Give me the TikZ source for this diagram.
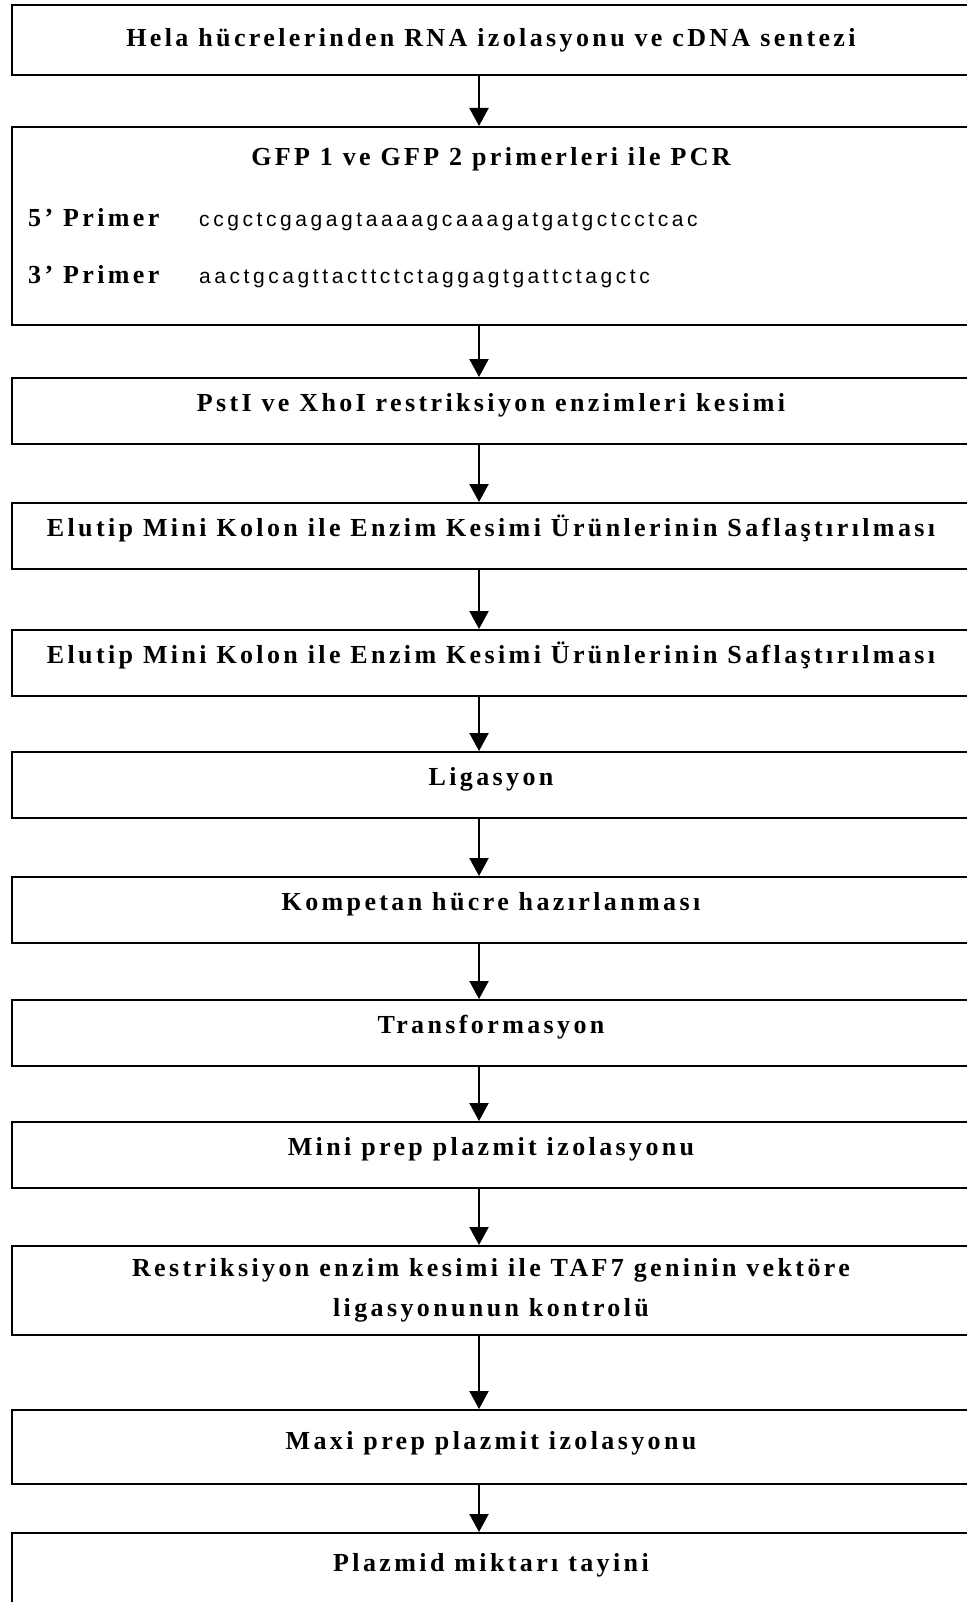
\documentclass[tikz,border=0pt]{standalone}
\usepackage{fontspec}
\usetikzlibrary{arrows.meta}
\newfontfamily\stepfont[LetterSpace=13]{Liberation Serif}
\newfontfamily\seqfont[LetterSpace=17]{Liberation Sans}
\tikzstyle{stepbox}=[draw=black,line width=1.6pt,anchor=north,minimum width=958pt,inner xsep=0pt,inner ysep=0pt,text height=34pt,text depth=32pt,font=\stepfont\bfseries\fontsize{26}{30}\selectfont]
\tikzstyle{primerlab}=[anchor=base west,inner sep=0pt,font=\stepfont\bfseries\fontsize{26}{30}\selectfont]
\tikzstyle{primerseq}=[anchor=base west,inner sep=0pt,font=\seqfont\fontsize{21}{25}\selectfont]
\tikzstyle{flow}=[line width=2.2pt,-{Triangle[length=18pt,width=19pt]}]

\begin{document}
\begin{tikzpicture}[x=1pt,y=-1pt]
	\fill[white] (0,0) rectangle (966,1602);
	\useasboundingbox (0,0) rectangle (966,1602);
	\coordinate (ax) at (479,0);
	\node (s1) [stepbox,text height=42pt,text depth=28pt] at (491,4) {Hela hücrelerinden RNA izolasyonu ve cDNA sentezi};
	\node (s2) [stepbox,text height=39pt,text depth=159pt] at (491,126) {GFP 1 ve GFP 2 primerleri ile PCR};
	\node (l5) [primerlab] at (28,227) {5’ Primer};
	\node (q5) [primerseq] at (199,227) {ccgctcgagagtaaaagcaaagatgatgctcctcac};
	\node (l3) [primerlab] at (28,284) {3’ Primer};
	\node (q3) [primerseq] at (199,284) {aactgcagttacttctctaggagtgattctagctc};
	\node (s3) [stepbox] at (491,377) {PstI ve XhoI restriksiyon enzimleri kesimi};
	\node (s4) [stepbox] at (491,502) {Elutip Mini Kolon ile Enzim Kesimi Ürünlerinin Saflaştırılması};
	\node (s5) [stepbox] at (491,629) {Elutip Mini Kolon ile Enzim Kesimi Ürünlerinin Saflaştırılması};
	\node (s6) [stepbox] at (491,751) {Ligasyon};
	\node (s7) [stepbox] at (491,876) {Kompetan hücre hazırlanması};
	\node (s8) [stepbox] at (491,999) {Transformasyon};
	\node (s9) [stepbox] at (491,1121) {Mini prep plazmit izolasyonu};
	\node (s10) [stepbox,text height={},text depth={},minimum height=89pt,align=center,font=\stepfont\bfseries\fontsize{26}{40}\selectfont] at (491,1245) {Restriksiyon enzim kesimi ile TAF7 geninin vektöre\\ligasyonunun kontrolü};
	\node (s11) [stepbox,text height=40pt,text depth=34pt] at (491,1409) {Maxi prep plazmit izolasyonu};
	\node (s12) [stepbox,text height=39pt,text depth=61pt] at (491,1532) {Plazmid miktarı tayini};
	\foreach \a/\b in {s1/s2,s2/s3,s3/s4,s4/s5,s5/s6,s6/s7,s7/s8,s8/s9,s9/s10,s10/s11,s11/s12}
		\draw[flow] (\a.south -| ax) -- (\b.north -| ax);
\end{tikzpicture}
\end{document}
